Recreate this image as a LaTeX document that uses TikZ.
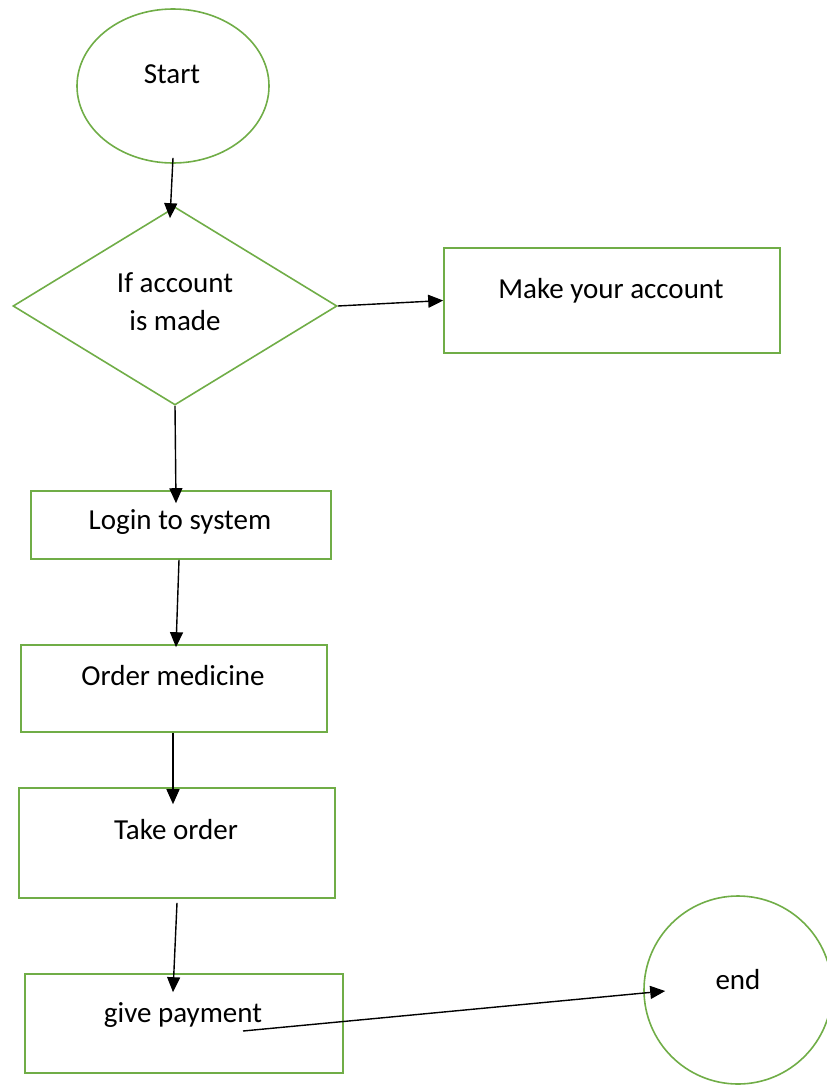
\documentclass[tikz,border=0pt]{standalone}
\usepackage{fontspec}
\setmainfont{Carlito}
\usetikzlibrary{shapes.geometric,arrows.meta}
\definecolor{flowgreen}{HTML}{70AD47}
\begin{document}
\begin{tikzpicture}[x=1pt,y=-1pt,>={Triangle[length=15pt,width=13pt]},
    shp/.style={draw=flowgreen,line width=1.6pt,inner sep=0pt},
    box/.style={shp,rectangle},
    lbl/.style={font=\fontsize{29}{38}\selectfont,text height=18.5pt,text depth=0pt,inner sep=0pt},
    arr/.style={->,line width=1.4pt}]
    \useasboundingbox (0,0) rectangle (827,1087);
    \node[shp,ellipse,minimum width=192pt,minimum height=154pt] (start) at (173,86) {};
    \node[shp,diamond,minimum width=324pt,minimum height=198pt] (dec) at (175,306) {};
    \node[box,minimum width=336pt,minimum height=105pt] (make) at (612,300.5) {};
    \node[box,minimum width=300pt,minimum height=68pt] (login) at (181,525) {};
    \node[box,minimum width=306pt,minimum height=87pt] (order) at (174,688.5) {};
    \node[box,minimum width=316pt,minimum height=110pt] (take) at (177,843) {};
    \node[box,minimum width=318pt,minimum height=99pt] (pay) at (184,1023.5) {};
    \node[shp,circle,minimum size=188pt] (end) at (738,990) {};
    \node[lbl] (starttxt) at (172,74) {Start};
    \node[font=\fontsize{29}{38}\selectfont,align=center,inner sep=0pt] (dectxt) at (175,302) {If account\\is made};
    \node[lbl] (maketxt) at (611,289) {Make your account};
    \node[lbl] (logintxt) at (180,520) {Login to system};
    \node[lbl] (ordertxt) at (173,676) {Order medicine};
    \node[lbl] (taketxt) at (176,830) {Take order};
    \node[lbl] (paytxt) at (183,1013) {give payment};
    \node[lbl] (endtxt) at (738,980) {end};
    \draw[arr] ([yshift=6]start.south) -- ([xshift=-5,yshift=-12]dec.north);
    \draw[arr] (dec.east) -- (make.west);
    \draw[arr] (dec.south) -- ([xshift=-5,yshift=-13]login.north);
    \draw[arr] ([xshift=-2]login.south) -- ([xshift=2,yshift=-3]order.north);
    \draw[arr] ([xshift=-1]order.south) -- ([xshift=-4,yshift=-17]take.north);
    \draw[arr] ([yshift=-4]take.south) -- ([xshift=-11,yshift=-19]pay.north);
    \draw[arr] ([xshift=59,yshift=-7.5]pay.center) -- ([xshift=22,yshift=-1]end.west);
\end{tikzpicture}
\end{document}
